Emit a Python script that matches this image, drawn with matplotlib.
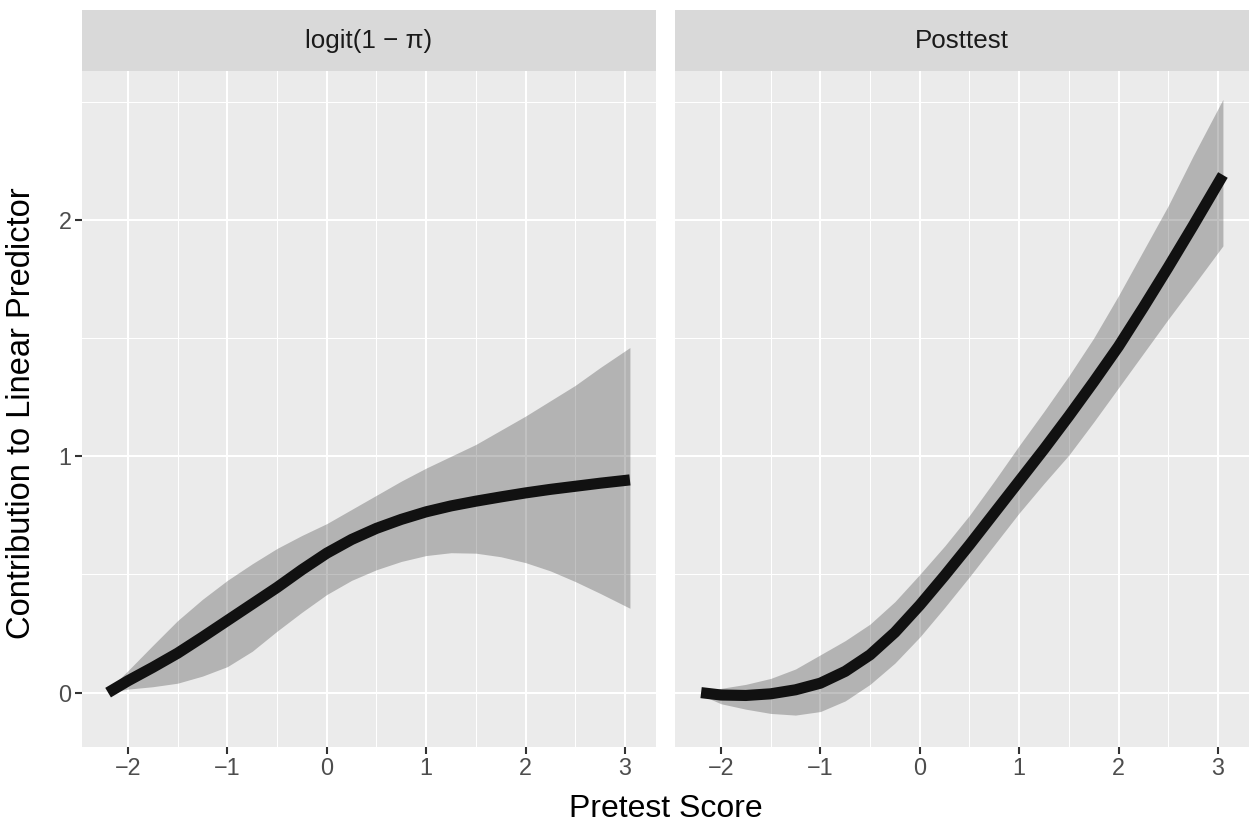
import matplotlib
matplotlib.use("Agg")
import matplotlib.pyplot as plt
import numpy as np

plt.rcParams['font.family'] = ['Liberation Sans', 'DejaVu Sans']

# pretest score grid (same for both panels)
pretest = [-2.2, -2.0, -1.75, -1.5, -1.25, -1.0, -0.75, -0.5, -0.25, 0.0, 0.25,
           0.5, 0.75, 1.0, 1.25, 1.5, 1.75, 2.0, 2.25, 2.5, 2.75, 3.05]

# logit(1 - pi) panel
logit_fit = [0.0, 0.05, 0.107, 0.167, 0.235, 0.305, 0.375, 0.445, 0.52, 0.59, 0.648,
             0.695, 0.733, 0.765, 0.79, 0.81, 0.828, 0.845, 0.86, 0.873, 0.886, 0.90]
logit_hi = [0.01, 0.093, 0.2, 0.305, 0.395, 0.475, 0.545, 0.61, 0.665, 0.715, 0.775,
            0.835, 0.895, 0.95, 1.0, 1.05, 1.11, 1.17, 1.235, 1.30, 1.375, 1.46]
logit_lo = [0.0, 0.015, 0.025, 0.04, 0.07, 0.11, 0.175, 0.26, 0.34, 0.415, 0.475,
            0.52, 0.555, 0.58, 0.592, 0.59, 0.575, 0.55, 0.515, 0.47, 0.42, 0.357]

# posttest panel
post_fit = [0.0, -0.01, -0.012, -0.005, 0.012, 0.04, 0.09, 0.16, 0.255, 0.37, 0.495,
            0.625, 0.76, 0.895, 1.03, 1.17, 1.315, 1.465, 1.63, 1.80, 1.975, 2.19]
post_hi = [0.005, 0.018, 0.035, 0.06, 0.1, 0.16, 0.22, 0.29, 0.385, 0.50, 0.62,
           0.75, 0.895, 1.045, 1.19, 1.34, 1.50, 1.68, 1.87, 2.06, 2.27, 2.51]
post_lo = [-0.01, -0.047, -0.07, -0.088, -0.095, -0.08, -0.035, 0.035, 0.125, 0.235, 0.36,
           0.49, 0.625, 0.76, 0.885, 1.005, 1.145, 1.29, 1.435, 1.58, 1.72, 1.89]

panels = [
    ("logit(1 \u2212 \u03c0)", logit_fit, logit_lo, logit_hi),
    ("Posttest", post_fit, post_lo, post_hi),
]

xticks = [-2, -1, 0, 1, 2, 3]
xlabels = ["\u22122", "\u22121", "0", "1", "2", "3"]
yticks = [0, 1, 2]

W, H = 1249, 827
fig = plt.figure(figsize=(W / 100, H / 100), dpi=100)

panel_left = [82, 675]
panel_w = 574
panel_top, panel_bot = 71, 747
strip_top = 10

for i, (title, fit, lo, hi) in enumerate(panels):
    x0 = panel_left[i]
    ax = fig.add_axes([x0 / W, 1 - panel_bot / H, panel_w / W, (panel_bot - panel_top) / H])
    ax.set_facecolor('#EBEBEB')
    for s in ax.spines.values():
        s.set_visible(False)
    ax.set_xlim(-2.4625, 3.3125)
    ax.set_ylim(-0.23, 2.63)
    ax.set_xticks(xticks)
    ax.set_xticks([-1.5, -0.5, 0.5, 1.5, 2.5], minor=True)
    ax.set_yticks(yticks)
    ax.set_yticks([0.5, 1.5, 2.5], minor=True)
    ax.grid(which='major', color='white', lw=1.5)
    ax.grid(which='minor', color='white', lw=0.75)
    ax.set_axisbelow(True)
    ax.tick_params(which='major', length=5, width=1.5, color='#333333',
                   labelsize=16.8, labelcolor='#4D4D4D', pad=2.5)
    ax.tick_params(which='minor', length=0)
    ax.set_xticklabels(xlabels)
    if i == 0:
        ax.set_yticklabels([str(t) for t in yticks])
    else:
        ax.tick_params(axis='y', which='both', left=False, labelleft=False)

    ax.fill_between(pretest, lo, hi, color='#333333', alpha=0.3, lw=0)
    ax.plot(pretest, fit, color='#111111', lw=8, solid_capstyle='butt',
            solid_joinstyle='round')

    sax = fig.add_axes([x0 / W, 1 - panel_top / H, panel_w / W, (panel_top - strip_top) / H])
    sax.set_facecolor('#D9D9D9')
    sax.set_xticks([])
    sax.set_yticks([])
    for s in sax.spines.values():
        s.set_visible(False)
    sax.text(0.5, (panel_top - 48) / (panel_top - strip_top), title, ha='center',
             va='baseline', fontsize=18.7, color='#1A1A1A', transform=sax.transAxes)

fig.text((82 + 1249) / 2 / W, 1 - 817 / H, "Pretest Score", ha='center', va='baseline',
         fontsize=23)
fig.text(22 / W, 1 - 413 / H, "Contribution to Linear Predictor",
         ha='center', va='center', rotation=90, fontsize=23.5)

fig.savefig("out.png", dpi=100)
